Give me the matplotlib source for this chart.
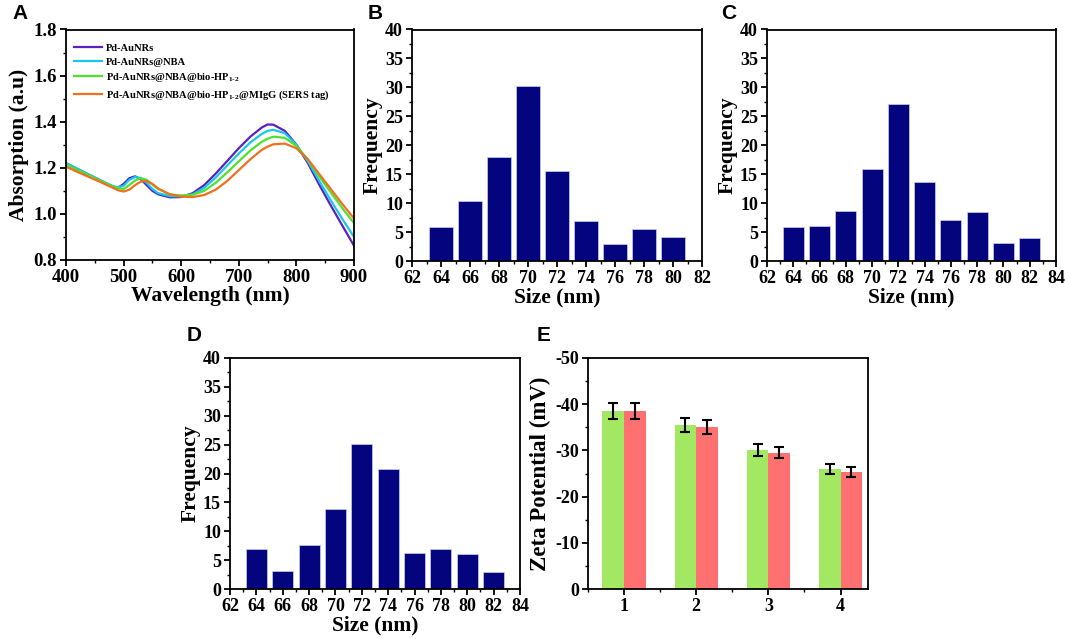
import matplotlib
matplotlib.use("Agg")
import matplotlib.pyplot as plt
from matplotlib.ticker import MultipleLocator
import numpy as np

plt.rcParams['font.family'] = ['Liberation Serif', 'DejaVu Serif']
plt.rcParams['font.weight'] = 'bold'
plt.rcParams['axes.labelweight'] = 'bold'
plt.rcParams['axes.unicode_minus'] = False
plt.rcParams['mathtext.fontset'] = 'custom'
plt.rcParams['mathtext.rm'] = 'Liberation Serif:bold'
plt.rcParams['mathtext.it'] = 'Liberation Serif:bold'
plt.rcParams['mathtext.bf'] = 'Liberation Serif:bold'

# ---------------- Panel A data ----------------
wavelength = [400, 420, 440, 460, 480, 490, 500, 510, 520, 530, 540, 550, 560, 580, 600,
              620, 640, 660, 680, 700, 720, 740, 750, 760, 780, 800, 820, 840, 860, 880, 900]
abs_pd_aunrs = [1.220, 1.195, 1.170, 1.145, 1.120, 1.113, 1.130, 1.155, 1.163, 1.150, 1.125,
                1.100, 1.085, 1.072, 1.073, 1.090, 1.125, 1.175, 1.230, 1.285, 1.335, 1.375,
                1.388, 1.387, 1.360, 1.300, 1.220, 1.125, 1.035, 0.948, 0.862]
abs_nba = [1.220, 1.195, 1.170, 1.145, 1.122, 1.115, 1.122, 1.148, 1.160, 1.155, 1.135,
           1.108, 1.090, 1.077, 1.076, 1.085, 1.113, 1.158, 1.210, 1.262, 1.310, 1.347,
           1.360, 1.365, 1.350, 1.300, 1.228, 1.142, 1.057, 0.977, 0.900]
abs_biohp = [1.215, 1.190, 1.167, 1.143, 1.120, 1.112, 1.108, 1.125, 1.145, 1.155, 1.148,
             1.128, 1.108, 1.085, 1.080, 1.083, 1.100, 1.135, 1.180, 1.228, 1.275, 1.313,
             1.326, 1.335, 1.330, 1.295, 1.235, 1.162, 1.092, 1.024, 0.960]
abs_sers = [1.205, 1.182, 1.160, 1.138, 1.115, 1.103, 1.097, 1.105, 1.125, 1.140, 1.143,
            1.130, 1.110, 1.085, 1.075, 1.073, 1.082, 1.105, 1.143, 1.190, 1.237, 1.278,
            1.292, 1.302, 1.305, 1.285, 1.237, 1.172, 1.107, 1.042, 0.980]
labels_a = ['Pd-AuNRs', 'Pd-AuNRs@NBA', r'Pd-AuNRs@NBA@bio-HP$_{1\text{-}2}$',
            r'Pd-AuNRs@NBA@bio-HP$_{1\text{-}2}$@MIgG (SERS tag)']
colors_a = ['#5a20c0', '#18c8e8', '#50e030', '#f07020']

# ---------------- Panels B, C, D data ----------------
size_b = [64, 66, 68, 70, 72, 74, 76, 78, 80]
freq_b = [5.9, 10.3, 18.0, 30.2, 15.5, 6.9, 3.0, 5.6, 4.1]
size_c = [64, 66, 68, 70, 72, 74, 76, 78, 80, 82]
freq_c = [5.9, 6.0, 8.6, 15.9, 27.2, 13.6, 7.0, 8.4, 3.1, 4.0]
size_d = [64, 66, 68, 70, 72, 74, 76, 78, 80, 82]
freq_d = [6.9, 3.1, 7.6, 13.9, 25.1, 20.7, 6.2, 7.0, 6.0, 2.9]

# ---------------- Panel E data ----------------
samples_e = [1, 2, 3, 4]
zeta_green = [-38.6, -35.5, -30.1, -26.0]
err_green = [1.7, 1.6, 1.3, 1.15]
zeta_red = [-38.6, -35.0, -29.5, -25.3]
err_red = [1.7, 1.5, 1.25, 1.15]

W, H = 1065, 639
fig = plt.figure(figsize=(W / 100, H / 100), dpi=100)


def ax_px(l, t, r, b):
    return fig.add_axes([l / W, 1 - b / H, (r - l) / W, (b - t) / H])


LAB = 15.5
TCK = 13
NAVY = '#04047e'


def style(ax):
    for s in ax.spines.values():
        s.set_linewidth(1.3)
    ax.tick_params(which='major', direction='out', length=4.5, width=1.3, labelsize=TCK, pad=2)
    ax.tick_params(which='minor', direction='out', length=2.5, width=1.0)


# Panel A
axA = ax_px(66, 29.5, 354, 260)
for y, lab, c in zip([abs_pd_aunrs, abs_nba, abs_biohp, abs_sers], labels_a, colors_a):
    axA.plot(wavelength, y, color=c, lw=1.6, label=lab)
axA.set_xlim(400, 900)
axA.set_ylim(0.8, 1.8)
axA.xaxis.set_major_locator(MultipleLocator(100))
axA.xaxis.set_minor_locator(MultipleLocator(50))
axA.yaxis.set_major_locator(MultipleLocator(0.2))
axA.yaxis.set_minor_locator(MultipleLocator(0.1))
axA.yaxis.set_major_formatter(plt.FormatStrFormatter('%.1f'))
style(axA)
axA.tick_params(which='major', labelsize=13.5)
axA.set_xlabel('Wavelength (nm)', fontsize=LAB, labelpad=0)
axA.set_ylabel('Absorption (a.u)', fontsize=LAB, labelpad=3)
leg = axA.legend(loc='upper left', bbox_to_anchor=(0.0, 0.975), frameon=False,
                 prop={'size': 7.6, 'weight': 'bold'}, handlelength=2.6,
                 labelspacing=0.4, handletextpad=0.35, borderaxespad=0.4)


def hist_panel(rect, sizes, freqs, xmax):
    ax = ax_px(*rect)
    ax.bar(sizes, freqs, width=1.6, color=NAVY, edgecolor='#c8d0ec', linewidth=0.5)
    ax.set_xlim(62, xmax)
    ax.set_ylim(0, 40)
    ax.xaxis.set_major_locator(MultipleLocator(2))
    ax.xaxis.set_minor_locator(MultipleLocator(1))
    ax.yaxis.set_major_locator(MultipleLocator(5))
    ax.yaxis.set_minor_locator(MultipleLocator(2.5))
    style(ax)
    ax.set_xlabel('Size (nm)', fontsize=LAB, labelpad=0)
    ax.set_ylabel('Frequency', fontsize=LAB, labelpad=2)
    return ax


axB = hist_panel((412, 29.5, 702, 261), size_b, freq_b, 82)
axC = hist_panel((767, 29.5, 1056, 261), size_c, freq_c, 84)
axD = hist_panel((230, 358, 520, 589), size_d, freq_d, 84)

# Panel E
axE = ax_px(588, 358, 868, 589)
bw = 0.3
xg = [s - bw / 2 for s in samples_e]
xr = [s + bw / 2 for s in samples_e]
axE.bar(xg, zeta_green, width=bw, color='#a3e862')
axE.bar(xr, zeta_red, width=bw, color='#ff7070')
ekw = dict(fmt='none', ecolor='black', elinewidth=1.5, capsize=3.5, capthick=1.5)
axE.errorbar(xg, zeta_green, yerr=err_green, **ekw)
axE.errorbar(xr, zeta_red, yerr=err_red, **ekw)
axE.set_xlim(0.5, 4.38)
axE.set_ylim(0, -50)
axE.set_xticks(samples_e)
axE.xaxis.set_minor_locator(MultipleLocator(0.5))
axE.yaxis.set_major_locator(MultipleLocator(10))
axE.yaxis.set_minor_locator(MultipleLocator(5))
style(axE)
axE.set_ylabel('Zeta Potential (mV)', fontsize=16.5, labelpad=3)

# Panel letters
for (x, y, t) in [(12, 4, 'A'), (368, 4, 'B'), (721, 4, 'C'), (187, 326, 'D'), (537, 326, 'E')]:
    fig.text(x / W, 1 - y / H, t, fontsize=15, fontweight='bold',
             family=['Liberation Sans', 'DejaVu Sans'], va='top', ha='left')

fig.savefig('out.png', dpi=100)
